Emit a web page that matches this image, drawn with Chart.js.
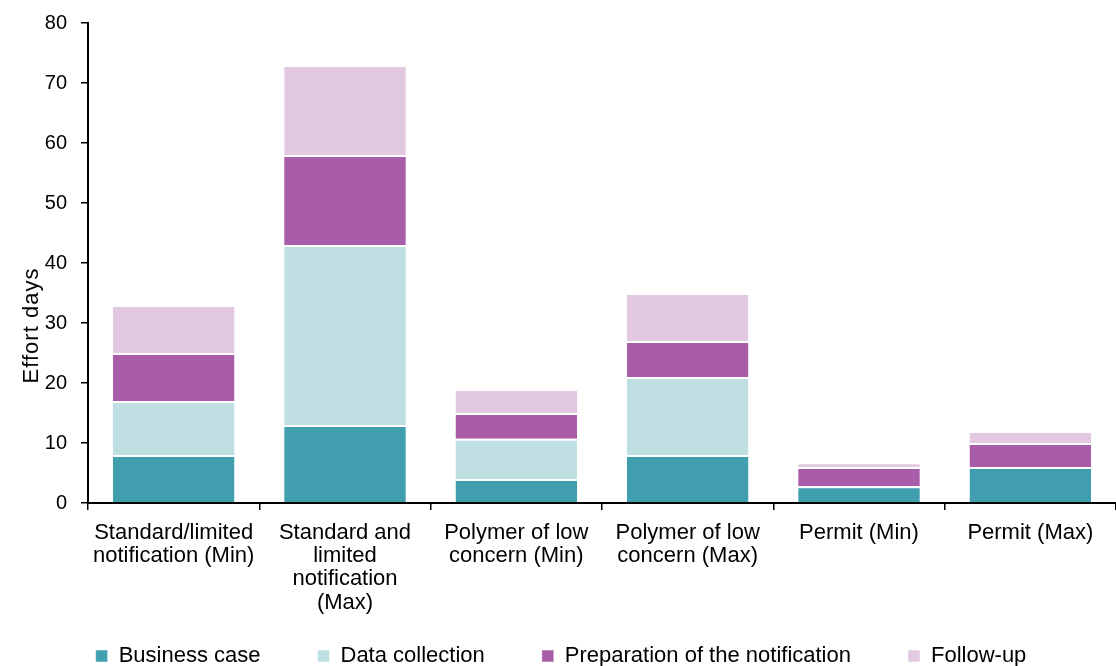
<!DOCTYPE html>
<html>
<head>
<meta charset="utf-8">
<script src="https://cdn.jsdelivr.net/npm/chart.js@4.4.1/dist/chart.umd.min.js"></script>
<style>
  html, body { margin: 0; padding: 0; background: #fff; overflow: hidden; }
  #wrap { width: 1116px; height: 666px; position: relative; }
</style>
</head>
<body>
<div id="wrap"><canvas id="chart"></canvas></div>
<script>
// Categories (multi-line labels as arrays)
const categories = [
  ["Standard/limited", "notification (Min)"],
  ["Standard and", "limited", "notification", "(Max)"],
  ["Polymer of low", "concern (Min)"],
  ["Polymer of low", "concern (Max)"],
  "Permit (Min)",
  "Permit (Max)"
];

// Effort days per phase
const businessCase   = [8, 13, 4, 8, 2.8, 6];
const dataCollection = [9, 30, 6.7, 13, 0, 0];
const preparation    = [8, 15, 4.3, 6, 3.2, 4];
const followUp       = [8, 15, 4, 8, 0.8, 2];

const seriesNames = ["Business case", "Data collection", "Preparation of the notification", "Follow-up"];
const seriesColors = ["#419eae", "#bfdfe3", "#a95ca8", "#e3c8e2"];

const yMin = 0, yMax = 80, yStep = 10;
const yTitle = "Effort days";

const FONT = '"Liberation Sans", Arial, sans-serif';

// Vertical axis title, placed beside the value axis
const yTitlePlugin = {
  id: 'yTitle',
  afterDraw(chart) {
    const { ctx, chartArea } = chart;
    ctx.save();
    ctx.letterSpacing = '1px';
    ctx.font = '22px ' + FONT;
    ctx.fillStyle = '#000';
    ctx.textAlign = 'center';
    ctx.textBaseline = 'alphabetic';
    ctx.translate(chartArea.left - 50, chartArea.bottom - 177.5);
    ctx.rotate(-Math.PI / 2);
    ctx.fillText(yTitle, 0, 0);
    ctx.restore();
  }
};

// Let the category labels run down past the axis box (the 4-line label is taller)
const tallLabelsPlugin = {
  id: 'tallLabels',
  afterLayout(chart) {
    chart.scales.x.bottom = chart.height;
  }
};

const seriesData = [businessCase, dataCollection, preparation, followUp];

new Chart(document.getElementById('chart'), {
  type: 'bar',
  data: {
    labels: categories,
    datasets: seriesData.map((d, i) => ({
      label: seriesNames[i],
      data: d,
      backgroundColor: seriesColors[i],
      borderColor: '#ffffff',
      borderWidth: { top: 2, bottom: 0, left: 0, right: 0 },
      borderSkipped: false,
      barPercentage: 0.71,
      categoryPercentage: 1.0
    }))
  },
  options: {
    responsive: true,
    maintainAspectRatio: false,
    animation: false,
    layout: { padding: { top: 23, left: 0, right: -6, bottom: -11 } },
    plugins: {
      tooltip: { enabled: false },
      legend: {
        position: 'bottom',
        align: 'center',
        labels: {
          boxWidth: 12,
          boxHeight: 12,
          padding: 57,
          color: '#000',
          font: { family: FONT, size: 22 }
        }
      }
    },
    scales: {
      x: {
        stacked: true,
        afterFit(scale) { scale.height = 85; },
        border: { display: true, color: '#000', width: 2 },
        grid: {
          offset: true,
          drawOnChartArea: false,
          drawTicks: true,
          tickLength: 7,
          color: '#000',
          lineWidth: 1.5
        },
        ticks: {
          autoSkip: false,
          maxRotation: 0,
          minRotation: 0,
          padding: 11,
          color: '#000',
          font: { family: FONT, size: 22, lineHeight: 1.06 }
        }
      },
      y: {
        stacked: true,
        min: yMin,
        max: yMax,
        afterFit(scale) { scale.width = 88; },
        border: { display: true, color: '#000', width: 2 },
        grid: {
          drawOnChartArea: false,
          drawTicks: true,
          tickLength: 7,
          color: '#000',
          lineWidth: 1.5
        },
        ticks: {
          stepSize: yStep,
          padding: 14,
          color: '#000',
          font: { family: FONT, size: 20, lineHeight: 0.5 }
        }
      }
    }
  },
  plugins: [yTitlePlugin, tallLabelsPlugin]
});
</script>
</body>
</html>
